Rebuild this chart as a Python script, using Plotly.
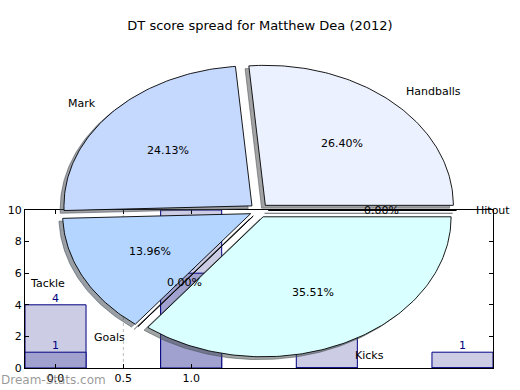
import numpy as np
import plotly.graph_objects as go

# ---------------- data ----------------
title_text = "DT score spread for Matthew Dea (2012)"
slice_labels = ["Handballs", "Mark", "Tackle", "Goals", "Kicks", "Hitout"]
slice_pcts = [26.40, 24.13, 13.96, 0.00, 35.51, 0.00]
slice_colors = ["#EBF1FF", "#C5D9FF", "#B4D5FF", "#BFE0FF", "#D9FFFF", "#E0F0FF"]

bar_x = [0.0, 1.0, 2.0, 3.0]
bar_light = [4, 10, 6, 1]
bar_dark = [1, 6, 0, 0]
x_tick_vals = [0.0, 0.5, 1.0]
x_tick_text = ["0.0", "0.5", "1.0"]
y_tick_vals = [0, 2, 4, 6, 8, 10]
watermark = "Dream-Stats.com"

# ---------------- layout constants ----------------
W, H = 520, 390
CX, CY, RX, RY = 259.0, 210.5, 188.0, 140.0   # pie centre / radii in px
EXPLODE = 0.05
SHADOW = 0.02
FONT = "DejaVu Sans"

fig = go.Figure()

# ---------------- bar chart (xy) ----------------
for vals, col in ((bar_light, "rgb(204,204,229)"), (bar_dark, "rgb(161,161,208)")):
    fig.add_trace(go.Bar(
        x=bar_x, y=vals, width=0.45,
        marker=dict(color=col, line=dict(color="#000080", width=1)),
        hoverinfo="skip", showlegend=False, xaxis="x", yaxis="y"))

for vals in (bar_light, bar_dark):
    xs = [x for x, v in zip(bar_x, vals) if v > 0]
    ys = [v for v in vals if v > 0]
    fig.add_trace(go.Scatter(
        x=xs, y=ys, mode="text", text=[str(v) for v in ys],
        textposition="top center", cliponaxis=False,
        textfont=dict(color="#000080", size=11, family=FONT),
        hoverinfo="skip", showlegend=False, xaxis="x", yaxis="y"))

# ---------------- exploded elliptical pie (x2y2) ----------------
ends = np.cumsum(slice_pcts) / 100.0 * 360.0
starts = np.concatenate([[0.0], ends[:-1]])

def hex_to_rgb(h):
    h = h.lstrip("#")
    return [int(h[i:i + 2], 16) for i in (0, 2, 4)]

geoms = []
for lbl, p, c, t1, t2 in zip(slice_labels, slice_pcts, slice_colors, starts, ends):
    m = np.deg2rad((t1 + t2) / 2.0)
    ox, oy = EXPLODE * np.cos(m), EXPLODE * np.sin(m)
    n = max(2, int(abs(t2 - t1)) + 2)
    arc = np.deg2rad(np.linspace(t1, t2, n))
    xs = np.concatenate([[ox], ox + np.cos(arc), [ox]])
    ys = np.concatenate([[oy], oy + np.sin(arc), [oy]])
    geoms.append((lbl, p, c, m, ox, oy, xs, ys))

# shadows first (below all wedges)
for lbl, p, c, m, ox, oy, xs, ys in geoms:
    r, g, b = [int(0.3 * v) for v in hex_to_rgb(c)]
    col = f"rgba({r},{g},{b},0.5)"
    fig.add_trace(go.Scatter(
        x=xs - SHADOW, y=ys - SHADOW, mode="lines", fill="toself",
        fillcolor=col, line=dict(color=col, width=1),
        hoverinfo="skip", showlegend=False, xaxis="x2", yaxis="y2"))

for lbl, p, c, m, ox, oy, xs, ys in geoms:
    fig.add_trace(go.Scatter(
        x=xs, y=ys, mode="lines", fill="toself",
        fillcolor=c, line=dict(color="black", width=0.9),
        hoverinfo="skip", showlegend=False, xaxis="x2", yaxis="y2"))

annotations = []
for lbl, p, c, m, ox, oy, xs, ys in geoms:
    annotations.append(dict(
        x=ox + 0.6 * np.cos(m), y=oy + 0.6 * np.sin(m), xref="x2", yref="y2",
        text=f"{p:.2f}%", showarrow=False, xanchor="center", yanchor="middle",
        font=dict(family=FONT, size=11, color="black")))
    annotations.append(dict(
        x=ox + 1.1 * np.cos(m), y=oy + 1.1 * np.sin(m), xref="x2", yref="y2",
        text=lbl, showarrow=False,
        xanchor="left" if np.cos(m) > 0 else "right", yanchor="middle",
        borderpad=0, font=dict(family=FONT, size=11, color="black")))

annotations.append(dict(
    x=0, y=1 - 380 / H, xref="paper", yref="paper", text=watermark,
    showarrow=False, xanchor="left", yanchor="middle", borderpad=0,
    font=dict(family=FONT, size=12, color="rgba(120,120,120,0.75)")))

fig.update_layout(
    width=W, height=H, autosize=False,
    margin=dict(l=0, r=0, t=0, b=0, pad=0, autoexpand=False),
    paper_bgcolor="white", plot_bgcolor="rgba(0,0,0,0)",
    barmode="overlay",
    font=dict(family=FONT, size=11, color="black"),
    title=dict(text=title_text, x=0.5, xanchor="center", y=1 - 25 / H,
               yanchor="middle", font=dict(family=FONT, size=13, color="black")),
    xaxis=dict(domain=[25 / W, 493 / W], range=[-0.225, 3.225],
               tickvals=x_tick_vals, ticktext=x_tick_text,
               ticks="inside", ticklen=4, tickcolor="black",
               showline=True, linecolor="black", linewidth=1, mirror="ticks",
               showgrid=False, zeroline=False, fixedrange=True, automargin=False,
               tickfont=dict(family=FONT, size=11, color="black")),
    yaxis=dict(domain=[22 / H, 180 / H], range=[0, 10],
               tickvals=y_tick_vals,
               ticks="inside", ticklen=4, tickcolor="black",
               showline=True, linecolor="black", linewidth=1, mirror="ticks",
               showgrid=False, zeroline=False, fixedrange=True, automargin=False,
               tickfont=dict(family=FONT, size=11, color="black")),
    xaxis2=dict(domain=[0, 1], range=[-CX / RX, (W - CX) / RX], visible=False,
                anchor="y2", fixedrange=True, automargin=False),
    yaxis2=dict(domain=[0, 1], range=[-(H - CY) / RY, CY / RY], visible=False,
                anchor="x2", fixedrange=True, automargin=False),
    shapes=[dict(type="line", xref="x", yref="y", x0=0.5, x1=0.5, y0=0, y1=10,
                 line=dict(color="#bbbbbb", width=1, dash="dot"), layer="below")],
    annotations=annotations,
)

fig.write_html(
    "out.html",
    config={"displayModeBar": False},
    post_script="document.body.style.margin='0';document.body.style.padding='0';",
)
